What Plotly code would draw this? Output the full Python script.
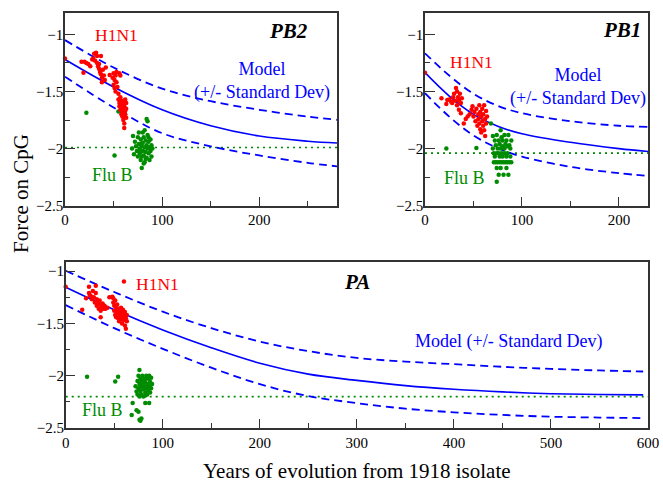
import plotly.graph_objects as go

# ---------------- data ----------------
# PB2 panel
pb2_h1n1_x = [0, 17, 19, 20, 22, 24, 26, 28, 29, 30, 31, 32, 33, 33, 34, 35, 35, 36, 37, 37, 38, 38, 39, 40, 41, 42,
              46, 49, 50, 50, 51, 51, 52, 52, 53, 53, 54, 55, 55, 56, 56, 56, 57, 57, 57, 58, 58, 58, 59, 59, 59,
              60, 60, 60, 61, 61, 61, 62, 62, 62, 63, 63, 63, 60, 61]
pb2_h1n1_y = [-1.21, -1.24, -1.335, -1.24, -1.25, -1.26, -1.28, -1.22, -1.21, -1.17, -1.23, -1.16, -1.19, -1.25,
              -1.28, -1.26, -1.30, -1.33, -1.19, -1.35, -1.38, -1.42, -1.31, -1.36, -1.40, -1.29,
              -1.355, -1.38, -1.34, -1.44, -1.40, -1.47, -1.36, -1.50, -1.42, -1.33, -1.46, -1.52, -1.57, -1.34,
              -1.60, -1.63, -1.36, -1.55, -1.66, -1.58, -1.70, -1.62, -1.64, -1.68, -1.72,
              -1.60, -1.66, -1.75, -1.78, -1.82, -1.63, -1.57, -1.70, -1.67, -1.60, -1.73, -1.65, -1.58, -1.71]
pb2_flub_x = [22, 51, 55, 69, 70, 71, 72, 73, 74, 75, 75, 76, 76, 77, 77, 78, 78, 79, 79, 80, 80, 80, 81, 81, 82,
              82, 83, 83, 84, 84, 84, 85, 85, 85, 86, 86, 87, 87, 88, 88, 89, 89, 90, 78, 82, 79, 81, 76, 83, 86]
pb2_flub_y = [-1.685, -2.06, -1.675, -2.00, -1.89, -2.05, -1.94, -1.98, -2.02, -1.90, -2.07, -1.86, -1.96, -2.00,
              -2.04, -1.92, -2.10, -1.98, -2.17, -1.86, -1.95, -2.02, -2.06, -1.90, -1.99, -2.12, -1.93, -2.03,
              -1.74, -1.97, -2.08, -1.76, -2.00, -1.88, -1.94, -2.04, -1.99, -2.10, -1.92, -2.02, -1.97, -2.07,
              -2.00, -1.96, -1.84, -2.07, -2.13, -2.02, -2.09, -1.90]
pb2_model_x = [0, 50, 100, 150, 200, 250, 280]
pb2_model = [-1.22, -1.46, -1.66, -1.80, -1.89, -1.935, -1.951]
pb2_upper = [-1.05, -1.29, -1.475, -1.585, -1.66, -1.72, -1.748]
pb2_lower = [-1.37, -1.64, -1.865, -1.98, -2.06, -2.125, -2.155]
pb2_flub_mean = -1.99

# PB1 panel
pb1_h1n1_x = [0, 17, 22, 23, 25, 27, 28, 29, 30, 31, 32, 33, 33, 34, 35, 35, 36, 37, 37, 38, 40, 42, 44, 46, 48,
              49, 50, 51, 52, 53, 54, 55, 55, 56, 56, 57, 57, 58, 58, 59, 59, 60, 60, 61, 61, 62, 62, 63, 63, 64]
pb1_h1n1_y = [-1.335, -1.56, -1.61, -1.575, -1.57, -1.59, -1.60, -1.55, -1.52, -1.58, -1.47, -1.50, -1.62, -1.55,
              -1.58, -1.66, -1.52, -1.60, -1.69, -1.56, -1.78, -1.74, -1.72, -1.70, -1.66, -1.63, -1.72, -1.68,
              -1.76, -1.65, -1.80, -1.70, -1.74, -1.78, -1.62, -1.83, -1.68, -1.72, -1.86, -1.76, -1.65, -1.80,
              -1.70, -1.62, -1.84, -1.74, -1.89, -1.67, -1.78, -1.72]
pb1_flub_x = [22, 53, 68, 74, 70, 72, 74, 70, 71, 71, 72, 73, 73, 74, 75, 75, 76, 76, 76, 77, 77, 77, 78, 78, 78,
              79, 79, 80, 80, 80, 81, 81, 82, 82, 82, 83, 83, 84, 84, 84, 85, 85, 85, 86, 86, 87, 87, 88, 88, 89,
              89, 74, 79]
pb1_flub_y = [-2.00, -1.995, -1.78, -2.29, -1.89, -1.93, -1.88, -2.00, -2.04, -2.12, -2.07, -1.97, -2.12, -2.17,
              -2.00, -2.12, -1.93, -2.04, -2.23, -1.96, -2.07, -2.12, -1.84, -2.00, -2.17, -2.04, -2.12, -1.93,
              -1.98, -2.07, -2.12, -2.23, -1.88, -2.00, -2.04, -1.96, -2.12, -1.93, -2.07, -2.17, -1.98, -2.04,
              -2.12, -1.88, -2.23, -1.97, -2.12, -2.00, -2.07, -1.93, -2.12, -2.04, -1.90]
pb1_model_x = [0, 25, 50, 75, 100, 150, 200, 230]
pb1_model = [-1.335, -1.54, -1.70, -1.805, -1.87, -1.945, -2.00, -2.025]
pb1_upper = [-1.166, -1.36, -1.52, -1.625, -1.69, -1.76, -1.80, -1.81]
pb1_lower = [-1.515, -1.72, -1.885, -1.995, -2.07, -2.16, -2.215, -2.24]
pb1_flub_mean = -2.04

# PA panel
pa_h1n1_x = [0, 17, 21, 24, 24, 25, 26, 27, 28, 29, 30, 31, 31, 32, 32, 33, 34, 35, 35, 36, 36, 37, 38, 39, 40,
             41, 43, 45, 48, 49, 49, 50, 50, 51, 51, 52, 52, 53, 53, 54, 54, 55, 55, 56, 56, 57, 57, 58, 58, 59,
             59, 60, 60, 60, 61, 61, 62, 62, 63, 63]
pa_h1n1_y = [-1.15, -1.37, -1.26, -1.15, -1.21, -1.23, -1.24, -1.27, -1.19, -1.25, -1.30, -1.14, -1.21, -1.33,
             -1.27, -1.30, -1.36, -1.32, -1.28, -1.44, -1.38, -1.34, -1.31, -1.36, -1.33, -1.36, -1.35, -1.25,
             -1.245, -1.26, -1.30, -1.33, -1.38, -1.28, -1.42, -1.35, -1.44, -1.32, -1.39, -1.45, -1.36, -1.41,
             -1.48, -1.38, -1.43, -1.46, -1.35, -1.40, -1.50, -1.44, -1.37, -1.10, -1.47, -1.41, -1.52, -1.39,
             -1.45, -1.55, -1.42, -1.48]
pa_flub_x = [22, 51, 54, 76, 69, 73, 75, 68, 76, 77, 78, 82, 86, 72, 73, 74, 74, 75, 75, 76, 76, 77, 77, 78, 78,
             79, 79, 80, 80, 81, 81, 82, 82, 83, 83, 84, 84, 85, 85, 86, 86, 87, 87, 88, 88, 89, 76, 80, 84, 78, 82]
pa_flub_y = [-2.01, -2.055, -2.01, -1.945, -2.26, -2.33, -2.345, -2.375, -2.42, -2.43, -2.41, -2.26, -2.26, -2.10,
             -2.15, -2.05, -2.18, -2.00, -2.12, -2.08, -2.20, -2.03, -2.15, -2.10, -2.18, -2.00, -2.06, -2.13,
             -2.20, -2.03, -2.10, -2.16, -2.06, -2.00, -2.12, -2.08, -2.18, -2.03, -2.14, -2.00, -2.10, -2.06,
             -2.16, -2.02, -2.12, -2.08, -2.13, -2.07, -2.02, -2.05, -2.19]
pa_model_x = [0, 50, 100, 150, 200, 250, 300, 350, 400, 450, 500, 550, 595]
pa_model = [-1.155, -1.37, -1.563, -1.733, -1.881, -1.985, -2.045, -2.095, -2.13, -2.155, -2.172, -2.18, -2.183]
pa_upper = [-0.997, -1.20, -1.388, -1.545, -1.674, -1.765, -1.83, -1.865, -1.89, -1.915, -1.935, -1.95, -1.96]
pa_lower = [-1.325, -1.545, -1.743, -1.923, -2.081, -2.195, -2.262, -2.315, -2.35, -2.375, -2.392, -2.40, -2.405]
pa_flub_mean = -2.20

x_ranges = {"PB2": [0, 280], "PB1": [0, 230], "PA": [0, 600]}
y_ranges = {"PB2": [-2.5, -0.81], "PB1": [-2.5, -0.81], "PA": [-2.5, -0.91]}

# ---------------- style ----------------
RED = "#ff0000"
GREEN = "#008c00"
BLUE = "#0000ff"
FONT = "'Liberation Serif', 'Times New Roman', Times, serif"
W, H = 663, 485

fig = go.Figure()

panels = [
    ("PB2", "x", "y", pb2_h1n1_x, pb2_h1n1_y, pb2_flub_x, pb2_flub_y, pb2_model_x, pb2_model, pb2_upper, pb2_lower, pb2_flub_mean),
    ("PB1", "x2", "y2", pb1_h1n1_x, pb1_h1n1_y, pb1_flub_x, pb1_flub_y, pb1_model_x, pb1_model, pb1_upper, pb1_lower, pb1_flub_mean),
    ("PA", "x3", "y3", pa_h1n1_x, pa_h1n1_y, pa_flub_x, pa_flub_y, pa_model_x, pa_model, pa_upper, pa_lower, pa_flub_mean),
]

for name, xa, ya, hx, hy, fx, fy, mx, m, mu, ml, fmean in panels:
    xr = x_ranges[name]
    fig.add_trace(go.Scatter(x=xr, y=[fmean, fmean], xaxis=xa, yaxis=ya, mode="lines",
                             line=dict(color=GREEN, width=1.6, dash="2px,4px"), showlegend=False))
    for arr, dash, wdt in ((mu, "8px,5px", 1.8), (m, "solid", 1.6), (ml, "8px,5px", 1.8)):
        fig.add_trace(go.Scatter(x=mx, y=arr, xaxis=xa, yaxis=ya, mode="lines",
                                 line=dict(color=BLUE, width=wdt, dash=dash, shape="spline", smoothing=1.0),
                                 showlegend=False))
    fig.add_trace(go.Scatter(x=fx, y=fy, xaxis=xa, yaxis=ya, mode="markers", cliponaxis=False,
                             marker=dict(color=GREEN, size=4.5, line=dict(width=0)), showlegend=False))
    fig.add_trace(go.Scatter(x=hx, y=hy, xaxis=xa, yaxis=ya, mode="markers", cliponaxis=False,
                             marker=dict(color=RED, size=4.5, line=dict(width=0)), showlegend=False))


def xaxis_cfg(name, px0, px1, anchor):
    return dict(domain=[px0 / W, px1 / W], range=x_ranges[name], anchor=anchor, automargin=False,
                showline=True, linecolor="#333", linewidth=1.5, mirror=True,
                ticks="inside", ticklen=9, tickwidth=1.2, tickcolor="#333",
                tick0=0, dtick=100, showgrid=False, zeroline=False,
                tickfont=dict(family=FONT, size=15, color="black"),
                minor=dict(ticks="inside", ticklen=5, dtick=50, tickwidth=1, tickcolor="#333"))


def yaxis_cfg(name, py_top, py_bot, anchor):
    return dict(domain=[1 - py_bot / H, 1 - py_top / H], range=y_ranges[name], anchor=anchor, automargin=False,
                showline=True, linecolor="#333", linewidth=1.5, mirror=True,
                ticks="inside", ticklen=10, tickwidth=1.2, tickcolor="#333",
                tick0=-2.5, dtick=0.5, showgrid=False, zeroline=False,
                ticklabelstandoff=-3,
                tickfont=dict(family=FONT, size=15, color="black"),
                minor=dict(ticks="inside", ticklen=5, dtick=0.25, tickwidth=1, tickcolor="#333"))


fig.update_layout(
    width=W, height=H,
    margin=dict(l=0, r=0, t=0, b=0, autoexpand=False),
    paper_bgcolor="white", plot_bgcolor="white",
    font=dict(family=FONT),
    xaxis=xaxis_cfg("PB2", 65, 337, "y"),
    yaxis=yaxis_cfg("PB2", 12.7, 205.7, "x"),
    xaxis2=xaxis_cfg("PB1", 425, 648, "y2"),
    yaxis2=yaxis_cfg("PB1", 12.7, 205.7, "x2"),
    xaxis3=xaxis_cfg("PA", 65.7, 648, "y3"),
    yaxis3=yaxis_cfg("PA", 261.7, 428, "x3"),
)

ann = []
def txt(text, x, y, xref, yref, color, size=18, bold_italic=False, **kw):
    if bold_italic:
        text = "<b><i>%s</i></b>" % text
    ann.append(dict(text=text, x=x, y=y, xref=xref, yref=yref, showarrow=False,
                    xanchor="center", yanchor="middle",
                    font=dict(family=FONT, size=size, color=color), **kw))

# panel titles
txt("PB2", 0.82, 0.905, "x domain", "y domain", "black", size=21, bold_italic=True)
txt("PB1", 0.883, 0.91, "x2 domain", "y2 domain", "black", size=21, bold_italic=True)
txt("PA", 0.5, 0.88, "x3 domain", "y3 domain", "black", size=21, bold_italic=True)
# series labels
txt("H1N1", 52.6, -1.006, "x", "y", RED, size=17.5)
txt("H1N1", 47.6, -1.244, "x2", "y2", RED, size=17.5)
txt("H1N1", 94.5, -1.124, "x3", "y3", RED, size=17.5)
txt("Flu B", 48.5, -2.228, "x", "y", GREEN)
txt("Flu B", 40.3, -2.257, "x2", "y2", GREEN)
txt("Flu B", 38, -2.326, "x3", "y3", GREEN)
txt("Model<br>(+/- Standard Dev)", 203, -1.41, "x", "y", BLUE, align="center")
txt("Model<br>(+/- Standard Dev)", 158, -1.464, "x2", "y2", BLUE, align="center")
txt("Model (+/- Standard Dev)", 456.6, -1.675, "x3", "y3", BLUE)
# axis titles
txt("Years of evolution from 1918 isolate", 356.5 / W, 1 - 471 / H, "paper", "paper", "black", size=21)
txt("Force on CpG", 21 / W, 1 - 194 / H, "paper", "paper", "black", size=21, textangle=-90)

fig.update_layout(annotations=ann)
fig.write_html("out.html", config={"displayModeBar": False},
               post_script="document.body.style.margin='0px';document.body.style.padding='0px';")
